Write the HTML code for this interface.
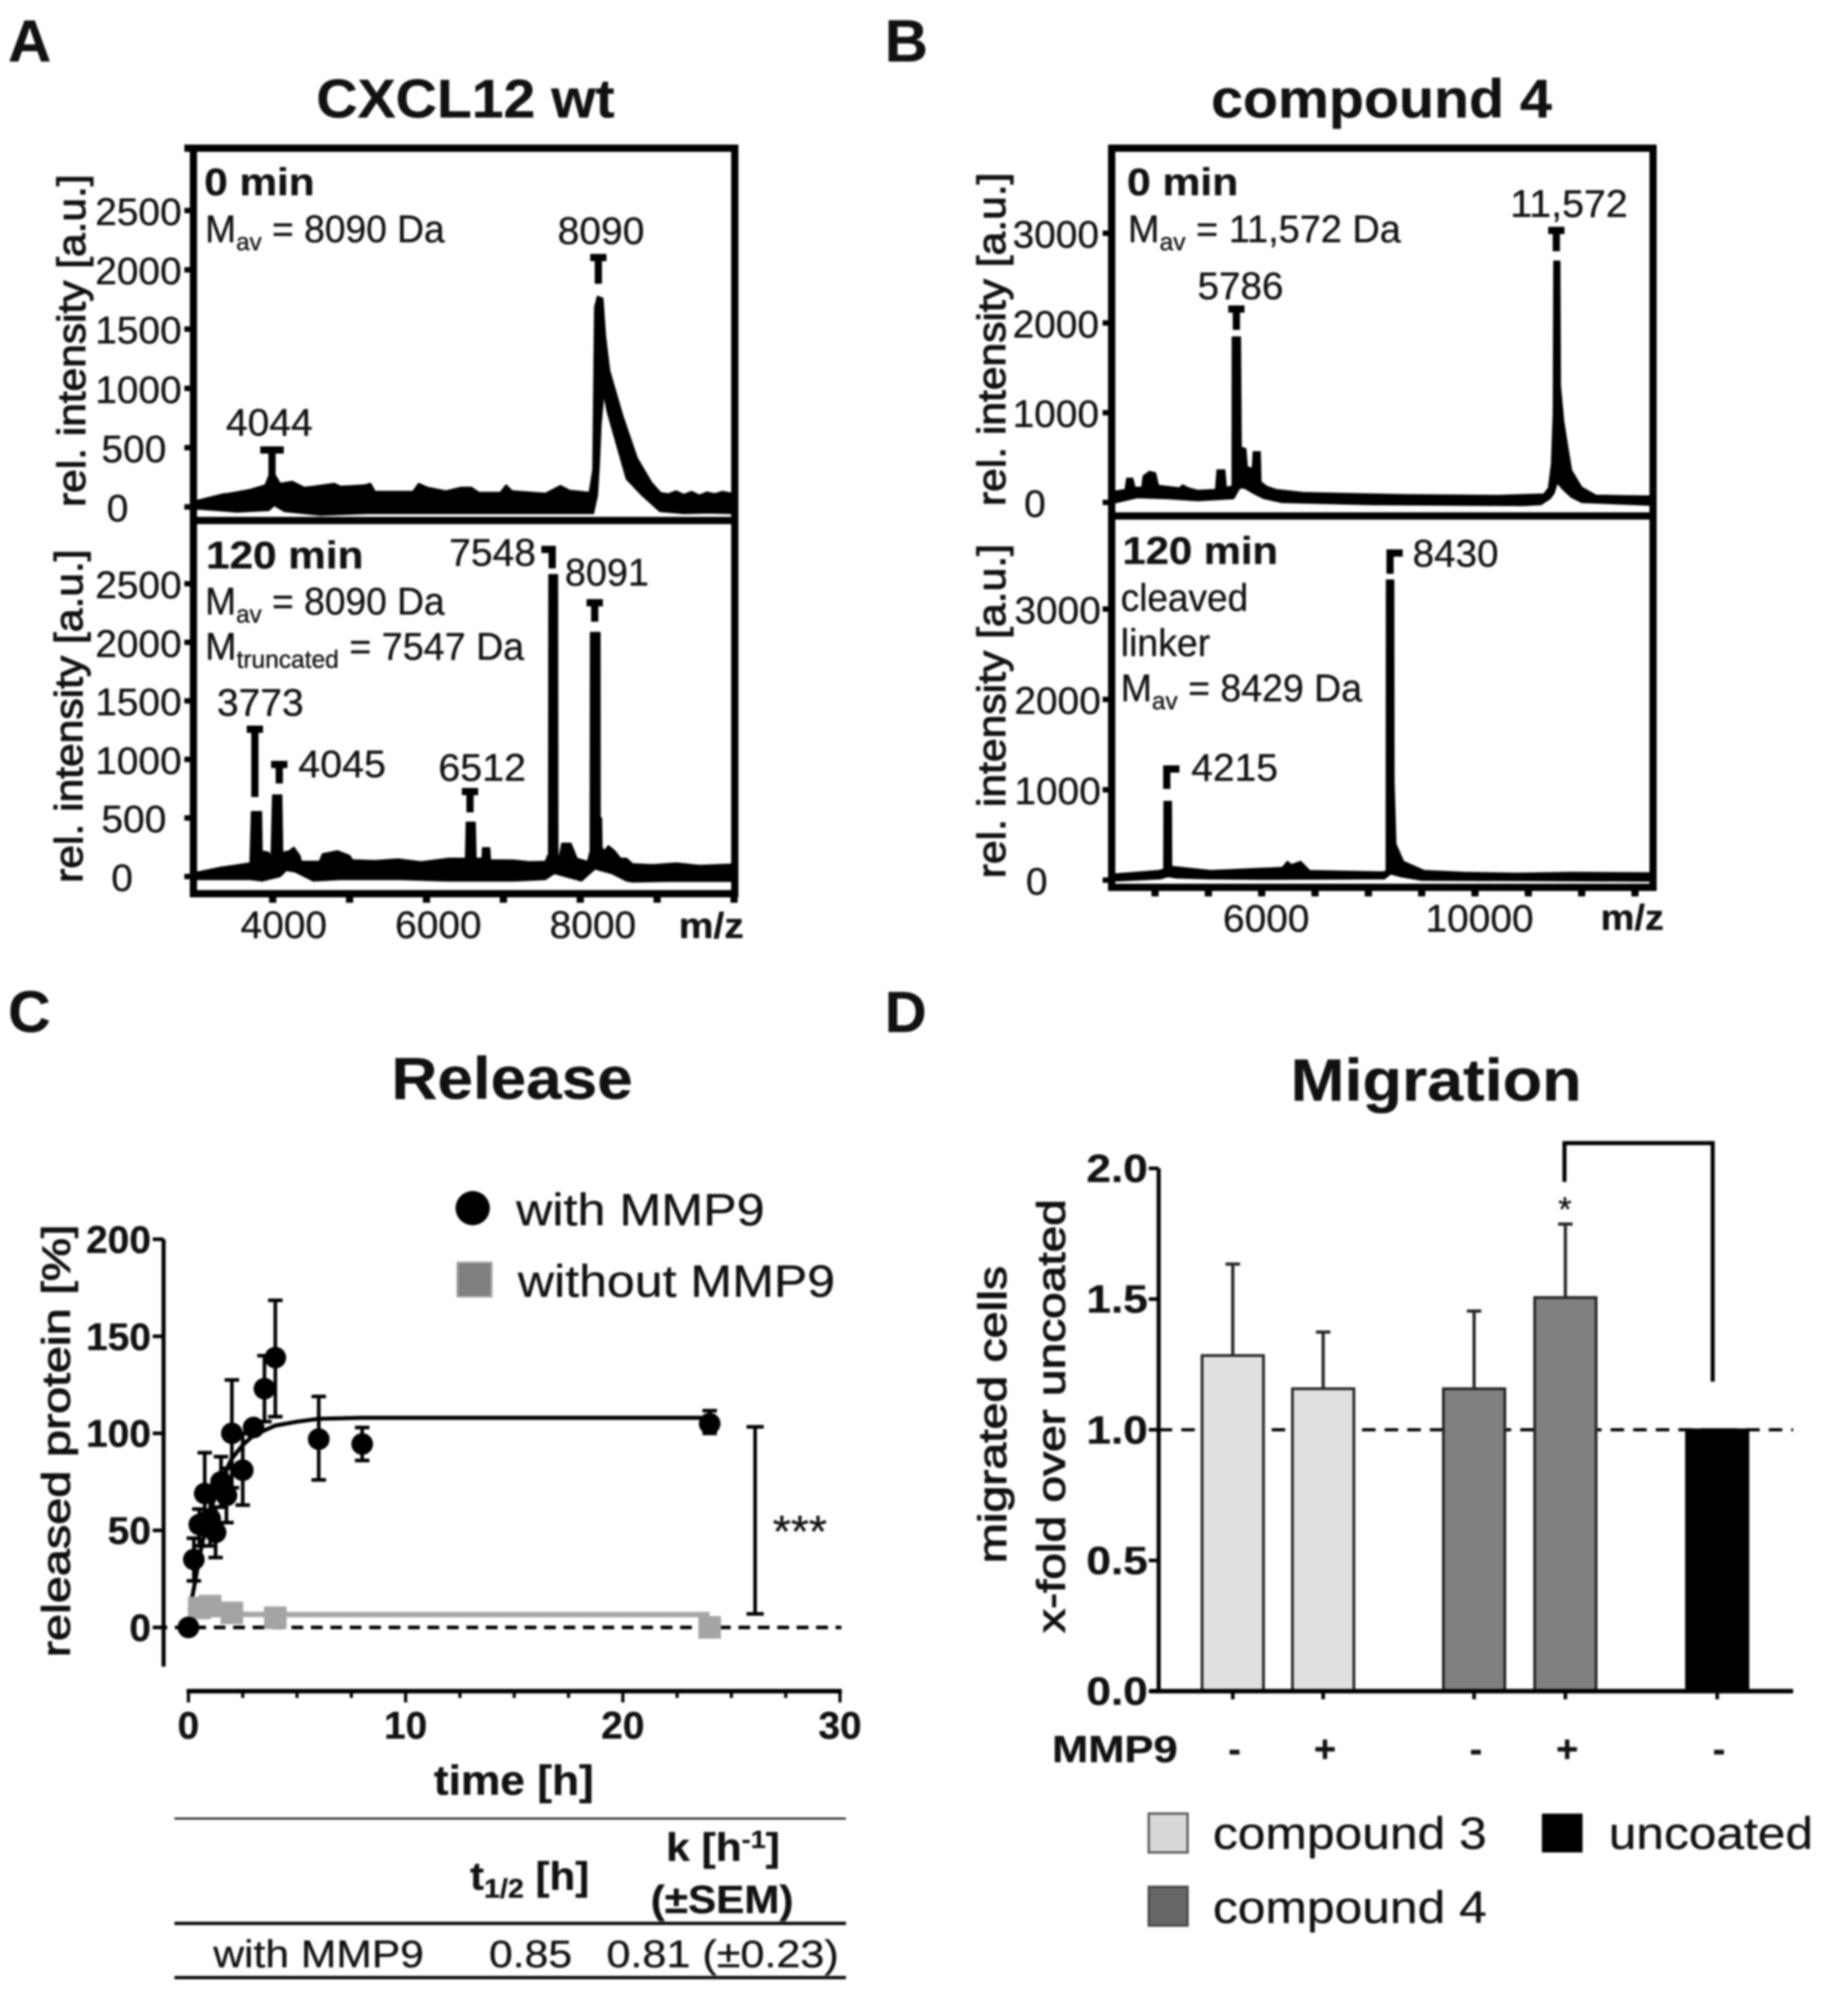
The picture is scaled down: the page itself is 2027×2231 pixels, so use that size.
<!DOCTYPE html>
<html lang="en">
<head>
<meta charset="utf-8">
<title>CXCL12 release and migration figure</title>
<style>
html,body{margin:0;padding:0;background:#fff;}
svg{display:block;filter:blur(1px);}
text{font-family:"Liberation Sans",sans-serif;fill:#111;stroke:#111;stroke-width:0.35px;}
.b{font-weight:700;}
.lab{font-size:43px;}
.side{font-size:44px;stroke:#111;stroke-width:1.1px;}
</style>
</head>
<body>
<svg id="figure" xmlns="http://www.w3.org/2000/svg" width="2027" height="2231" viewBox="0 0 2027 2231">
<rect x="0" y="0" width="2027" height="2231" fill="#fff"/>

<g id="panel-a">
  <text class="b" x="9" y="68" font-size="66">A</text>
  <text class="b" x="350" y="130" font-size="60" textLength="330" lengthAdjust="spacingAndGlyphs">CXCL12 wt</text>
  <text class="side" transform="translate(94,561) rotate(-90)" textLength="368" lengthAdjust="spacingAndGlyphs">rel. intensity [a.u.]</text>
  <text class="side" transform="translate(91,977) rotate(-90)" textLength="369" lengthAdjust="spacingAndGlyphs">rel. intensity [a.u.]</text>
  <text class="b lab" x="226" y="216" textLength="122" lengthAdjust="spacingAndGlyphs">0 min</text>
  <text class="lab" x="227" y="268" textLength="265" lengthAdjust="spacingAndGlyphs">M<tspan font-size="28" dy="9">av</tspan><tspan dy="-9"> = 8090 Da</tspan></text>
  <text class="lab" x="250" y="482" textLength="96" lengthAdjust="spacingAndGlyphs">4044</text>
  <text class="lab" x="617" y="270" textLength="96" lengthAdjust="spacingAndGlyphs">8090</text>
  <text class="b lab" x="228" y="629" textLength="174" lengthAdjust="spacingAndGlyphs">120 min</text>
  <text class="lab" x="227" y="680" textLength="265" lengthAdjust="spacingAndGlyphs">M<tspan font-size="28" dy="9">av</tspan><tspan dy="-9"> = 8090 Da</tspan></text>
  <text class="lab" x="227" y="730" textLength="353" lengthAdjust="spacingAndGlyphs">M<tspan font-size="28" dy="9">truncated</tspan><tspan dy="-9"> = 7547 Da</tspan></text>
  <text class="lab" x="240" y="792" textLength="96" lengthAdjust="spacingAndGlyphs">3773</text>
  <text class="lab" x="330" y="860" textLength="97" lengthAdjust="spacingAndGlyphs">4045</text>
  <text class="lab" x="485" y="864" textLength="97" lengthAdjust="spacingAndGlyphs">6512</text>
  <text class="lab" x="497" y="626" textLength="96" lengthAdjust="spacingAndGlyphs">7548</text>
  <text class="lab" x="625" y="648" textLength="93" lengthAdjust="spacingAndGlyphs">8091</text>
  <text class="b" x="751" y="1038" font-size="40" textLength="72" lengthAdjust="spacingAndGlyphs">m/z</text>
  <rect x="214" y="164" width="599" height="412" fill="none" stroke="#000" stroke-width="8"/>
  <rect x="214" y="576" width="599" height="413" fill="none" stroke="#000" stroke-width="8"/>
  <line x1="204" y1="164" x2="214" y2="164" stroke="#000" stroke-width="8"/>
</g>

<g id="panel-b">
  <text class="b" x="979" y="68" font-size="66">B</text>
  <text class="b" x="1340" y="130" font-size="60" textLength="377" lengthAdjust="spacingAndGlyphs">compound 4</text>
  <text class="side" transform="translate(1112,560) rotate(-90)" textLength="369" lengthAdjust="spacingAndGlyphs">rel. intensity [a.u.]</text>
  <text class="side" transform="translate(1112,972) rotate(-90)" textLength="370" lengthAdjust="spacingAndGlyphs">rel. intensity [a.u.]</text>
  <text class="b lab" x="1247" y="216" textLength="123" lengthAdjust="spacingAndGlyphs">0 min</text>
  <text class="lab" x="1248" y="268" textLength="302" lengthAdjust="spacingAndGlyphs">M<tspan font-size="28" dy="9">av</tspan><tspan dy="-9"> = 11,572 Da</tspan></text>
  <text class="lab" x="1671" y="240" textLength="130" lengthAdjust="spacingAndGlyphs">11,572</text>
  <text class="lab" x="1325" y="331" textLength="95" lengthAdjust="spacingAndGlyphs">5786</text>
  <text class="b lab" x="1242" y="624" textLength="172" lengthAdjust="spacingAndGlyphs">120 min</text>
  <text class="lab" x="1240" y="676" textLength="141" lengthAdjust="spacingAndGlyphs">cleaved</text>
  <text class="lab" x="1240" y="726" textLength="99" lengthAdjust="spacingAndGlyphs">linker</text>
  <text class="lab" x="1240" y="776" textLength="267" lengthAdjust="spacingAndGlyphs">M<tspan font-size="28" dy="9">av</tspan><tspan dy="-9"> = 8429 Da</tspan></text>
  <text class="lab" x="1563" y="627" textLength="95" lengthAdjust="spacingAndGlyphs">8430</text>
  <text class="lab" x="1318" y="864" textLength="96" lengthAdjust="spacingAndGlyphs">4215</text>
  <text class="b" x="1771" y="1029" font-size="40" textLength="70" lengthAdjust="spacingAndGlyphs">m/z</text>
  <rect x="1230" y="164" width="599" height="407" fill="none" stroke="#000" stroke-width="8"/>
  <rect x="1230" y="571" width="599" height="411" fill="none" stroke="#000" stroke-width="8"/>
</g>

<g id="panel-c">
  <text class="b" x="9" y="1142" font-size="65">C</text>
  <text class="b" x="433" y="1216" font-size="66" textLength="267" lengthAdjust="spacingAndGlyphs">Release</text>
  <text class="side" transform="translate(77,1834) rotate(-90)" textLength="479" lengthAdjust="spacingAndGlyphs">released protein [%]</text>
  <text class="b" x="480" y="1986" font-size="46" textLength="177" lengthAdjust="spacingAndGlyphs">time [h]</text>
  <circle cx="523" cy="1337" r="19" fill="#000"/>
  <text x="571" y="1356" font-size="50" textLength="275" lengthAdjust="spacingAndGlyphs">with MMP9</text>
  <rect x="506" y="1397" width="38" height="38" fill="#808080" stroke="#aaa" stroke-width="2"/>
  <text x="573" y="1435" font-size="50" textLength="351" lengthAdjust="spacingAndGlyphs">without MMP9</text>
  <text x="855" y="1712" font-size="50" textLength="60" lengthAdjust="spacingAndGlyphs">***</text>
  <line x1="193" y1="2012.5" x2="936" y2="2012.5" stroke="#111" stroke-width="2"/>
  <line x1="193" y1="2128.5" x2="936" y2="2128.5" stroke="#000" stroke-width="3.5"/>
  <line x1="193" y1="2188.5" x2="936" y2="2188.5" stroke="#000" stroke-width="3.5"/>
  <text class="b" x="520" y="2091" font-size="44" textLength="132" lengthAdjust="spacingAndGlyphs">t<tspan font-size="30" dy="9">1/2</tspan><tspan dy="-9"> [h]</tspan></text>
  <text class="b" x="737" y="2059" font-size="44" textLength="126" lengthAdjust="spacingAndGlyphs">k [h<tspan font-size="28" dy="-14">-1</tspan><tspan dy="14">]</tspan></text>
  <text class="b" x="720" y="2117" font-size="44" textLength="158" lengthAdjust="spacingAndGlyphs">(±SEM)</text>
  <text x="236" y="2177" font-size="43" textLength="233" lengthAdjust="spacingAndGlyphs">with MMP9</text>
  <text x="541" y="2177" font-size="43" textLength="92" lengthAdjust="spacingAndGlyphs">0.85</text>
  <text x="671" y="2177" font-size="43" textLength="257" lengthAdjust="spacingAndGlyphs">0.81 (±0.23)</text>
</g>

<g id="panel-d">
  <text class="b" x="979" y="1142" font-size="64">D</text>
  <text class="b" x="1428" y="1218" font-size="66" textLength="322" lengthAdjust="spacingAndGlyphs">Migration</text>
  <text class="side" transform="translate(1113,1730) rotate(-90)" textLength="329" lengthAdjust="spacingAndGlyphs">migrated cells</text>
  <text class="side" transform="translate(1178,1807) rotate(-90)" textLength="480" lengthAdjust="spacingAndGlyphs">x-fold over uncoated</text>
  <text class="b" x="1164" y="1950" font-size="42" textLength="139" lengthAdjust="spacingAndGlyphs">MMP9</text>
  <path d="M1731 1308V1265H1895V1529" fill="none" stroke="#000" stroke-width="4.5"/>
  <text x="1731.5" y="1351" font-size="38" text-anchor="middle">*</text>
  <rect x="1271" y="2007" width="43" height="43" fill="#d8d8d8" stroke="#555" stroke-width="2.5"/>
  <text x="1342" y="2046" font-size="50" textLength="303" lengthAdjust="spacingAndGlyphs">compound 3</text>
  <rect x="1271" y="2088" width="43" height="43" fill="#666" stroke="#444" stroke-width="2.5"/>
  <text x="1342" y="2128" font-size="50" textLength="303" lengthAdjust="spacingAndGlyphs">compound 4</text>
  <rect x="1706" y="2007" width="45" height="43" fill="#000"/>
  <text x="1780" y="2046" font-size="50" textLength="226" lengthAdjust="spacingAndGlyphs">uncoated</text>
</g>
</svg>

<script>
/* ---------- Panel A data: each spectrum is the ink band between an upper and a lower edge ---------- */
const aIntensityTicks = [0, 500, 1000, 1500, 2000, 2500];
const aMzTicks = [3880, 4875, 5870, 6865, 7860, 8855, 9850];
const aMzLabels = [4000, 6000, 8000];
const a0UpperMz = [2900,2924,3236,3314,3587,3782,3829,3918,3977,4133,
4289,4406,4679,4757,5068,5146,5205,5692,5770,5887,
6121,6316,6453,6550,6823,6901,6979,7408,7603,7720,
7977,8023,8047,8082,8152,8185,8240,8409,8596,8784,
8900,9000,9100,9200,9300,9400,9500,9600,9700,9815];
const a0UpperIntensity = [55,58,109,114,147,185,262,262,198,216,
165,173,198,173,185,198,130,130,198,165,
135,165,165,122,122,185,135,114,180,140,
122,312,1684,1776,1760,1450,1150,770,412,206,
120,110,135,105,130,100,125,110,130,115];
const a0LowerMz = [2900,2924,3420,3830,3900,4030,4500,5100,6300,7100,
7950,8030,8082,8105,8129,8164,8211,8456,8655,8889,
9200,9500,9815];
const a0LowerIntensity = [-18,-18,-43,-30,13,-38,-69,-56,-56,-56,
-56,-56,99,350,700,950,800,236,99,-38,
-56,-50,-56];
const a1UpperMz = [2900,2924,3197,3587,3606,3735,3743,3829,3860,3879,
3996,4008,4094,4152,4230,4250,4484,4523,4718,4874,
4912,5200,5500,5800,6160,6375,6386,6499,6511,6589,
6597,6686,6698,7000,7200,7408,7439,7450,7455,7565,
7570,7583,7622,7739,7817,7954,7985,7990,7993,8115,
8117,8135,8140,8168,8226,8305,8383,8460,8538,8800,
9100,9400,9815];
const a1UpperIntensity = [39,39,77,116,553,553,219,206,155,695,
695,206,219,250,180,129,129,193,219,180,
142,135,150,125,155,155,463,463,155,155,
245,245,142,140,125,129,180,180,2577,2577,
180,155,283,283,155,129,206,206,2083,2083,
500,500,250,219,263,219,155,155,108,100,
115,95,105];
const a1LowerMz = [2900,3587,3743,3977,4055,4172,4406,4757,5536,6121,
7018,7408,7525,7876,8051,8266,8460,8538,9000,9815];
const a1LowerIntensity = [-25,-25,-38,0,52,39,-38,-25,-25,-38,
-38,-25,26,-38,65,26,-38,-46,-40,-40];
/* peak tags: m/z, top intensity, bottom intensity */
const a0TagMz = [3871, 8094];
const a0TagTop = [511, 2134];
const a0TagBottom = [259, 1883];
const a1TagMz = [3649, 3965, 6433, 7497, 8047];
const a1TagTop = [1289, 988, 756, 2824, 2369];
const a1TagBottom = [679, 795, 548, 2631, 2176];

/* ---------- Panel B data ---------- */
const bIntensityTicks = [0, 1000, 2000, 3000];
const bMzTicks = [4000, 5000, 6000, 7000, 8000, 9000, 10000, 11000, 12000, 13000];
const bMzLabels = [6000, 10000];
const b0UpperMz = [3200,3272,3441,3469,3582,3622,3752,3780,3893,4006,
4063,4458,4515,4628,4797,5136,5164,5306,5334,5419,
5445,5450,5600,5616,5701,5729,5825,5842,5972,5984,
6097,6266,6775,7500,8752,10447,11294,11379,11436,11470,
11480,11590,11600,11661,11808,12000,12270,12700,13270];
const b0UpperIntensity = [127,127,144,268,268,167,167,295,345,329,
188,161,194,161,134,144,362,362,167,178,
178,1843,1843,614,597,396,379,564,564,228,
178,144,110,100,85,77,94,161,429,1000,
2688,2688,1300,906,360,170,80,75,70];
const b0LowerMz = [3200,3272,3667,4232,4797,5475,5588,5673,5870,6040,
6379,8074,10899,11238,11408,11480,11542,11640,11800,12000,13270];
const b0LowerIntensity = [-1,-1,53,43,20,43,161,161,94,43,
0,-24,-34,-24,43,100,221,150,60,0,-30];
const b1UpperMz = [3200,3288,4068,4165,4170,4305,4310,4330,5050,6390,
6480,6560,6730,6900,8270,8335,8340,8475,8480,8515,
8660,9050,9800,10800,11800,13270];
const b1UpperIntensity = [60,70,105,120,870,870,150,150,105,140,
207,170,207,105,90,100,3320,3320,1100,400,
207,105,85,75,85,80];
const b1LowerMz = [3200,4100,4240,4400,5000,6000,8300,8420,8600,9000,13270];
const b1LowerIntensity = [-10,15,40,25,15,10,15,70,40,0,-10];
const b0TagMz = [5525, 11525];
const b0TagTop = [2195, 3071];
const b0TagBottom = [1923, 2800];
const b1TagMz = [4220, 8407];
const b1TagTop = [1270, 3660];
const b1TagBottom = [1010, 3390];

/* ---------- Panel C data ---------- */
const cYTicks = [0, 50, 100, 150, 200];
const cXMinorTicks = [0, 2.5, 5, 7.5, 10, 12.5, 15, 17.5, 20, 22.5, 25, 27.5, 30];
const cXLabels = [0, 10, 20, 30];
const withTimes = [0.25, 0.5, 0.75, 1, 1.25, 1.5, 1.75, 2, 2.5, 3, 3.5, 4, 6, 8, 24, 0];
const withMeans = [35, 53, 69, 56, 49, 75, 68, 100, 81, 103, 123, 139, 97, 94.5, 105, 0];
const withErrHigh = [46, 61, 90, 70, 62, 88, 82, 127.5, 100, 106, 140, 168.5, 119, 103, 111.7, 0];
const withErrLow = [24, 42, 48, 42, 36, 62, 54, 72, 63, 100, 106, 108.6, 76, 86, 100, 0];
const withoutTimes = [0.5, 1, 2, 4, 24];
const withoutMeans = [10, 11, 7.5, 5, 0];
const fitTimes = [0.05, 0.25, 0.5, 0.75, 1, 1.5, 2, 2.5, 3, 4, 5, 6, 8, 10, 24];
const fitValues = [9, 20, 36, 49, 60, 76, 87, 94, 99, 104, 106, 107.5, 108, 108, 108];
const flatTimes = [0.3, 1, 2, 4, 8, 24];
const flatValues = [7, 7, 6.8, 6.6, 6.6, 6.6];

/* ---------- Panel D data ---------- */
const dCategories = ['compound-3-minus', 'compound-3-plus', 'compound-4-minus', 'compound-4-plus', 'uncoated-minus'];
const dCenters = [0, 1, 2.67, 3.68, 5.36];
const dMeans = [1.284, 1.157, 1.157, 1.506, 1.0];
const dErrTop = [1.634, 1.374, 1.454, 1.787, 1.0];
const dFills = ['#e0e0e0', '#e0e0e0', '#808080', '#808080', '#000'];
const dSigns = ['-', '+', '-', '+', '-'];
const dYTicks = [0, 0.5, 1, 1.5, 2];

/* ---------- Axis functions ---------- */
const xA = mz => 312 + (mz - 4000) * 0.0855;
const yA0 = v => 561 - v * 0.1312;
const yA1 = v => 970 - v * 0.1296;
const xB = mz => 1396 + (mz - 6000) * 0.059;
const yB0 = v => 556 - v * 0.0993;
const yB1 = v => 974 - v * 0.1;
const xC = t => 208.5 + t * 24.03;
const yC = v => 1801 - v * 2.148;
const xD = p => 1364 + p * 100;
const yD = v => 1871.5 - v * 289.25;

const NS = 'http://www.w3.org/2000/svg';
function mk(parent, tag, attrs, txt) {
  const n = document.createElementNS(NS, tag);
  for (const k in attrs) n.setAttribute(k, attrs[k]);
  if (txt !== undefined) n.textContent = txt;
  parent.appendChild(n);
  return n;
}
const panelA = document.getElementById('panel-a');
const panelB = document.getElementById('panel-b');
const panelC = document.getElementById('panel-c');
const panelD = document.getElementById('panel-d');

function drawSpectrum(parent, upMz, upVals, lowMz, lowVals, xf, yf) {
  let d = upMz.map((m, i) => (i ? 'L' : 'M') + xf(m).toFixed(1) + ' ' + yf(upVals[i]).toFixed(1)).join('');
  for (let i = lowMz.length - 1; i >= 0; i--) {
    d += 'L' + xf(lowMz[i]).toFixed(1) + ' ' + yf(lowVals[i]).toFixed(1);
  }
  const p = mk(parent, 'path', {d: d + 'Z', fill: '#000', stroke: '#000', 'stroke-width': 1.5, 'stroke-linejoin': 'round'});
  
  
}
function drawYTicks(parent, ticks, yf, tickRight, labelRight, labelSpecial) {
  ticks.forEach(v => {
    const t = mk(parent, 'line', {x1: tickRight - 10, x2: tickRight, y1: yf(v), y2: yf(v), stroke: '#000', 'stroke-width': 6});
    
    
    const right = labelSpecial[v] !== undefined ? labelSpecial[v] : labelRight;
    const l = mk(parent, 'text', {x: right, y: yf(v) + 16, 'font-size': 43, 'text-anchor': 'end'}, String(v));
    
    
  });
}
function drawXTicks(parent, ticks, labels, xf, axisY, labelY, labelShift) {
  ticks.forEach(m => {
    const t = mk(parent, 'line', {x1: xf(m), x2: xf(m), y1: axisY, y2: axisY + 10, stroke: '#000', 'stroke-width': 8});
    
    
  });
  labels.forEach(m => {
    const l = mk(parent, 'text', {x: xf(m) + labelShift, y: labelY, 'font-size': 43, 'text-anchor': 'middle'}, String(m));
    
    
  });
}
function drawTags(parent, mzs, tops, bottoms, xf, yf, shapes) {
  mzs.forEach((m, i) => {
    const x = xf(m), top = yf(tops[i]), bot = yf(bottoms[i]);
    const shape = shapes[i];
    let x1 = x - 9, x2 = x + 9;
    if (shape === 'wide') { x1 = x - 13; x2 = x + 13; }
    if (shape === 'left') { x1 = x - 12; x2 = x + 4; }
    if (shape === 'right') { x1 = x - 4; x2 = x + 14; }
    const s = mk(parent, 'path', {d: 'M' + x + ' ' + top + 'V' + bot + 'M' + x1 + ' ' + (top + 4) + 'H' + x2, fill: 'none', stroke: '#000', 'stroke-width': 8});
    
    
  });
}

/* Panel A marks */
drawSpectrum(panelA, a0UpperMz, a0UpperIntensity, a0LowerMz, a0LowerIntensity, xA, yA0);
drawSpectrum(panelA, a1UpperMz, a1UpperIntensity, a1LowerMz, a1LowerIntensity, xA, yA1);
drawYTicks(panelA, aIntensityTicks, yA0, 214, 201, {0: 142, 500: 184});
drawYTicks(panelA, aIntensityTicks, yA1, 214, 201, {0: 147, 500: 184});
drawXTicks(panelA, aMzTicks, aMzLabels, xA, 989, 1038, 2);
drawTags(panelA, a0TagMz, a0TagTop, a0TagBottom, xA, yA0, ['wide', 'plain']);
drawTags(panelA, a1TagMz, a1TagTop, a1TagBottom, xA, yA1, ['plain', 'plain', 'plain', 'left', 'plain']);

/* Panel B marks */
drawSpectrum(panelB, b0UpperMz, b0UpperIntensity, b0LowerMz, b0LowerIntensity, xB, yB0);
drawSpectrum(panelB, b1UpperMz, b1UpperIntensity, b1LowerMz, b1LowerIntensity, xB, yB1);
drawYTicks(panelB, bIntensityTicks, yB0, 1230, 1216, {0: 1157});
drawYTicks(panelB, bIntensityTicks, yB1, 1230, 1218, {0: 1159});
drawXTicks(panelB, bMzTicks, bMzLabels, xB, 982, 1031, 5);
drawTags(panelB, b0TagMz, b0TagTop, b0TagBottom, xB, yB0, ['plain', 'plain']);
drawTags(panelB, b1TagMz, b1TagTop, b1TagBottom, xB, yB1, ['right', 'right']);

/* Panel C axes */
const cYAxis = mk(panelC, 'line', {x1: xC(0) - 27.5, x2: xC(0) - 27.5, y1: yC(200), y2: yC(-20.2), stroke: '#000', 'stroke-width': 4.5});


cYTicks.forEach(v => {
  const t = mk(panelC, 'line', {x1: 169, x2: 181, y1: yC(v), y2: yC(v), stroke: '#000', 'stroke-width': 4});
  
  
  const l = mk(panelC, 'text', {x: 167, y: yC(v) + 15, 'font-size': 43, 'font-weight': 700, 'text-anchor': 'end'}, String(v));
  
  
});
const cXAxis = mk(panelC, 'line', {x1: xC(0) - 2, x2: xC(30) + 2, y1: 1871.5, y2: 1871.5, stroke: '#000', 'stroke-width': 5});


cXMinorTicks.forEach(t0 => {
  const major = t0 % 10 === 0;
  const t = mk(panelC, 'line', {x1: xC(t0), x2: xC(t0), y1: 1871.5, y2: major ? 1884 : 1879, stroke: '#000', 'stroke-width': 3.5});
  
  
});
cXLabels.forEach(t0 => {
  const l = mk(panelC, 'text', {x: xC(t0), y: 1924, 'font-size': 43, 'font-weight': 700, 'text-anchor': 'middle'}, String(t0));
  
  
});
const cZero = mk(panelC, 'line', {x1: 172, x2: 931, y1: yC(0), y2: yC(0), stroke: '#000', 'stroke-width': 4, 'stroke-dasharray': '13 8.5'});



/* Panel C series */
const grayLine = mk(panelC, 'path', {d: flatTimes.map((t, i) => (i ? 'L' : 'M') + xC(t).toFixed(1) + ' ' + yC(flatValues[i]).toFixed(1)).join(''), fill: 'none', stroke: '#a8a8a8', 'stroke-width': 6});


const fitLine = mk(panelC, 'path', {d: fitTimes.map((t, i) => (i ? 'L' : 'M') + xC(t).toFixed(1) + ' ' + yC(fitValues[i]).toFixed(1)).join(''), fill: 'none', stroke: '#000', 'stroke-width': 4.5});


withoutTimes.forEach((t, i) => {
  const r = mk(panelC, 'rect', {x: xC(t) - 12.5, y: yC(withoutMeans[i]) - 12.5, width: 25, height: 25, fill: '#a4a4a4'});
  
  
});
withTimes.forEach((t, i) => {
  const x = xC(t), hi = yC(withErrHigh[i]), lo = yC(withErrLow[i]);
  const e = mk(panelC, 'path', {d: 'M' + x + ' ' + hi + 'V' + lo + 'M' + (x - 8) + ' ' + hi + 'H' + (x + 8) + 'M' + (x - 8) + ' ' + lo + 'H' + (x + 8), fill: 'none', stroke: '#000', 'stroke-width': 4});
  
  
  const c = mk(panelC, 'circle', {cx: x, cy: yC(withMeans[i]), r: 12, fill: '#000'});
  
  
});
const cBracket = mk(panelC, 'path', {d: 'M826 1579H845M835.5 1579V1786M826 1786H845', fill: 'none', stroke: '#000', 'stroke-width': 4});



/* Panel D */
const dRef = mk(panelD, 'line', {x1: 1282, x2: 1984, y1: yD(1), y2: yD(1), stroke: '#000', 'stroke-width': 3.5, 'stroke-dasharray': '15 10'});


dCategories.forEach((c, i) => {
  const cx = xD(dCenters[i]);
  const err = mk(panelD, 'path', {d: 'M' + cx + ' ' + yD(dMeans[i]) + 'V' + yD(dErrTop[i]) + 'M' + (cx - 8) + ' ' + yD(dErrTop[i]) + 'H' + (cx + 8), fill: 'none', stroke: '#222', 'stroke-width': 3.5});
  
  
  const bar = mk(panelD, 'rect', {x: cx - 34, y: yD(dMeans[i]), width: 68, height: yD(0) - yD(dMeans[i]), fill: dFills[i], stroke: i === 4 ? '#000' : '#222', 'stroke-width': 3});
  
  
  const tick = mk(panelD, 'line', {x1: cx, x2: cx, y1: yD(0), y2: yD(0) + 9, stroke: '#000', 'stroke-width': 4});
  
  
  const sign = mk(panelD, 'text', {x: cx + 2, y: 1950, 'font-size': 42, 'font-weight': 700, 'text-anchor': 'middle'}, dSigns[i]);
  
  
});
const dYAxis = mk(panelD, 'line', {x1: 1282, x2: 1282, y1: yD(2), y2: yD(0) + 2, stroke: '#000', 'stroke-width': 4.5});


const dXAxis = mk(panelD, 'line', {x1: 1272, x2: 1984, y1: yD(0), y2: yD(0), stroke: '#000', 'stroke-width': 5});


dYTicks.forEach(v => {
  const t = mk(panelD, 'line', {x1: 1271, x2: 1282, y1: yD(v), y2: yD(v), stroke: '#000', 'stroke-width': 4});
  
  
  const l = mk(panelD, 'text', {x: 1270, y: yD(v) + 15, 'font-size': 44, 'font-weight': 700, 'text-anchor': 'end', textLength: 68, lengthAdjust: 'spacingAndGlyphs'}, v.toFixed(1));
  
  
});
</script>
</body>
</html>
